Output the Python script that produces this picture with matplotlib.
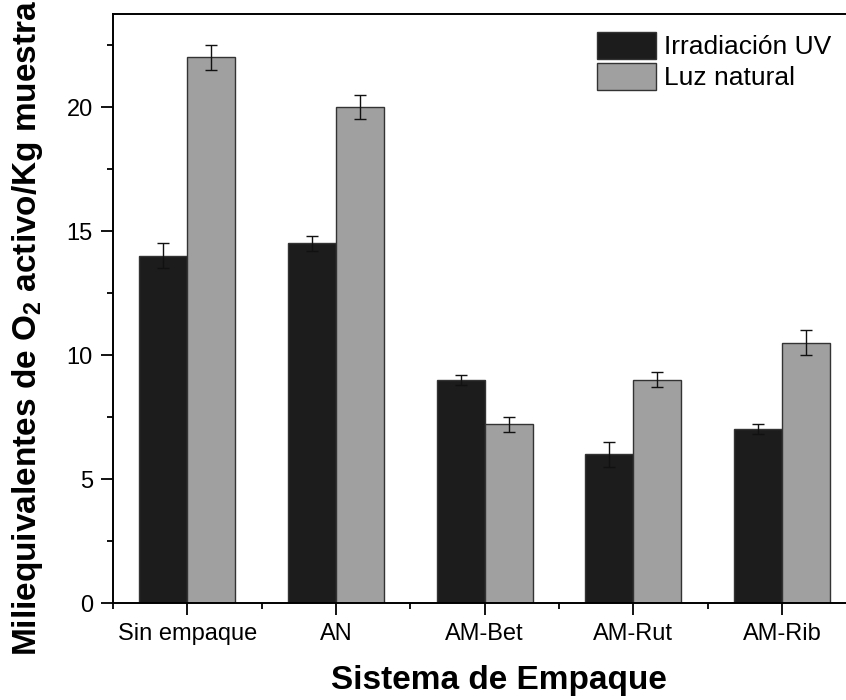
import numpy as np
import matplotlib
matplotlib.use("Agg")
import matplotlib.pyplot as plt
from matplotlib.ticker import MultipleLocator

# --- DATA ---
categories = ["Sin empaque", "AN", "AM-Bet", "AM-Rut", "AM-Rib"]
uv_vals = [14.0, 14.5, 9.0, 6.0, 7.0]
uv_err = [0.5, 0.3, 0.2, 0.5, 0.2]
luz_vals = [22.0, 20.0, 7.2, 9.0, 10.5]
luz_err = [0.5, 0.5, 0.3, 0.3, 0.5]

plt.rcParams['font.family'] = ['Liberation Sans', 'DejaVu Sans']
plt.rcParams['mathtext.fontset'] = 'custom'
plt.rcParams['mathtext.rm'] = 'Liberation Sans'

W, H = 846, 700
fig = plt.figure(figsize=(W / 100, H / 100), dpi=100)
# axes runs past the right edge like the original (cropped figure)
ax = fig.add_axes([113 / W, 1 - 603 / H, 743.5 / W, 589 / H])

x = np.arange(len(categories))
bw = 0.323
err_kw = dict(ecolor='#111111', elinewidth=1.0, capsize=4, capthick=1.0)
ax.bar(x - bw / 2, uv_vals, bw, yerr=uv_err, color='#1c1c1c',
       edgecolor='#333333', linewidth=1.0, label='Irradiación UV', error_kw=err_kw)
ax.bar(x + bw / 2, luz_vals, bw, yerr=luz_err, color='#a0a0a0',
       edgecolor='#333333', linewidth=1.0, label='Luz natural', error_kw=err_kw)

ax.set_xlim(-0.5, 4.5)
ax.set_ylim(0, 23.75)
ax.set_xticks(x)
ax.set_xticklabels(categories)
ax.xaxis.set_minor_locator(MultipleLocator(1, offset=0.5))
ax.yaxis.set_major_locator(MultipleLocator(5))
ax.yaxis.set_minor_locator(MultipleLocator(2.5))

for s in ax.spines.values():
    s.set_linewidth(1.4)
ax.spines['right'].set_visible(False)

ax.tick_params(which='major', direction='out', length=8.5, width=1.3,
               labelsize=17, pad=6)
ax.tick_params(which='minor', direction='out', length=4, width=1.3)
ax.tick_params(axis='y', which='both', right=False)
ax.tick_params(axis='x', which='both', top=False)

fig.text(499 / W, 1 - 680 / H, 'Sistema de Empaque', fontsize=24,
         fontweight='bold', ha='center', va='center')
fig.text(28 / W, 1 - 328 / H, 'Miliequivalentes de O$_\\mathregular{2}$ activo/Kg muestra',
         fontsize=24, fontweight='bold', rotation=90, ha='center', va='center')

ax.legend(loc='upper left', bbox_to_anchor=(597 / W, 1 - 32 / H),
          bbox_transform=fig.transFigure, frameon=False, fontsize=19,
          handlelength=2.25, handleheight=1.2, handletextpad=0.28,
          labelspacing=0.12, borderpad=0, borderaxespad=0)

fig.savefig('out.png', dpi=100)
